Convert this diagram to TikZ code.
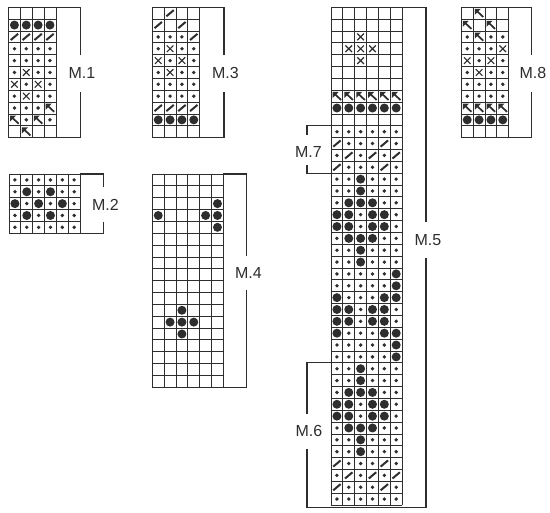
\documentclass[tikz,border=0pt]{standalone}
\usepackage{fontspec}
\setmainfont{Liberation Sans}
\definecolor{ink}{HTML}{2E2E2E}
\def\cs{11.85}
\tikzset{
  gridl/.style={draw=ink,line width=0.6pt},
  brk/.style={draw=ink,line width=0.85pt},
  lbl/.style={inner sep=0pt,font=\fontsize{12}{13}\selectfont,text=ink},
}
\newcommand\knite[2]{}
\newcommand\knitd[2]{\fill[ink] (#1,#2) circle (1.9);}
\newcommand\knitB[2]{\fill[ink] (#1,#2) circle (4.5);}
\newcommand\knits[2]{\draw[ink,line width=1.5pt,shift={(#1,#2)}] (-3.7,3.1) -- (3.7,-3.1);}
\newcommand\knitx[2]{\draw[ink,line width=0.85pt,shift={(#1,#2)}] (-3.3,-3.3) -- (3.3,3.3) (-3.3,3.3) -- (3.3,-3.3);}
\newcommand\knita[2]{\fill[ink,shift={(#1,#2)}] (-4.3,-4.3) -- (1.7,-4.3) -- (-4.3,1.7) -- cycle;
  \draw[ink,line width=1.3pt,shift={(#1,#2)}] (-2.2,-2.2) -- (4.2,3.8);}
% #1 x0, #2 y0, #3 ncols, #4 nrows, #5 rows
\newcommand\chart[5]{%
  \foreach \k in {0,...,#3} {\draw[gridl] ({#1+\k*\cs},#2) -- ({#1+\k*\cs},{#2+#4*\cs});}
  \foreach \k in {0,...,#4} {\draw[gridl] (#1,{#2+\k*\cs}) -- ({#1+#3*\cs},{#2+\k*\cs});}
  \foreach \row [count=\i] in {#5} {
    \foreach \c [count=\j] in \row {
      \pgfmathsetmacro\cx{#1+(\j-0.5)*\cs}
      \pgfmathsetmacro\cy{#2+(\i-0.5)*\cs}
      \csname knit\c\endcsname{\cx}{\cy}
    }
  }
}
% right bracket: #1 grid right, #2 line x, #3 top, #4 bottom, #5 gap top, #6 gap bottom
\newcommand\chartbrack[6]{%
  \draw[brk] (#1,#3) -- (#2,#3) -- (#2,#5);
  \draw[brk] (#2,#6) -- (#2,#4) -- (#1,#4);
}
\begin{document}
\begin{tikzpicture}[x=0.75pt,y=-0.75pt]
\useasboundingbox[fill=white] (0,0) rectangle (550,513);

% M.1
\chart{8.5}{7.3}{4}{11}{{e,e,e,e},{B,B,B,B},{s,s,s,s},{d,d,d,d},{d,d,d,d},{d,x,d,d},{x,d,x,d},{d,x,d,d},{d,d,d,a},{a,d,a,d},{e,a,e,e}}
\chartbrack{55.9}{80.5}{7.3}{137.65}{55}{92}
\node[lbl] (m1) at (82,73) {M.1};

% M.3
\chart{152.3}{7.3}{4}{11}{{e,s,e,e},{s,e,s,e},{d,d,d,s},{d,x,d,d},{x,d,x,d},{d,x,d,d},{d,d,d,d},{d,d,d,d},{s,s,s,s},{B,B,B,B},{e,e,e,e}}
\chartbrack{199.7}{224}{7.3}{137.65}{55}{92}
\node[lbl] (m3) at (225.5,73) {M.3};

% M.8
\chart{461.3}{7.3}{4}{11}{{e,a,e,e},{a,e,a,e},{d,a,d,d},{d,d,d,x},{x,d,x,d},{d,x,d,d},{d,d,d,d},{d,d,d,d},{a,a,a,a},{B,B,B,B},{e,e,e,e}}
\chartbrack{508.7}{531.7}{7.3}{137.65}{55}{92}
\node[lbl] (m8) at (533,73) {M.8};

% M.2
\chart{9}{174}{6}{5}{{d,d,d,d,d,d},{d,B,d,B,d,d},{B,d,B,d,B,d},{d,B,d,B,d,d},{d,d,d,d,d,d}}
\chartbrack{80.1}{103.3}{174}{233.25}{187}{222}
\node[lbl] (m2) at (105.5,204.5) {M.2};

% M.4
\chart{152.3}{174}{6}{18}{{e,e,e,e,e,e},{e,e,e,e,e,e},{e,e,e,e,e,B},{B,e,e,e,B,B},{e,e,e,e,e,B},{e,e,e,e,e,e},{e,e,e,e,e,e},{e,e,e,e,e,e},{e,e,e,e,e,e},{e,e,e,e,e,e},{e,e,e,e,e,e},{e,e,B,e,e,e},{e,B,B,B,e,e},{e,e,B,e,e,e},{e,e,e,e,e,e},{e,e,e,e,e,e},{e,e,e,e,e,e},{e,e,e,e,e,e}}
\chartbrack{223.4}{246.7}{174}{387.3}{256}{290}
\node[lbl] (m4) at (248.5,273) {M.4};

% M.5
\chart{331}{7.3}{6}{42}{{e,e,e,e,e,e},{e,e,e,e,e,e},{e,e,x,e,e,e},{e,x,x,x,e,e},{e,e,x,e,e,e},{e,e,e,e,e,e},{e,e,e,e,e,e},{a,a,a,a,a,a},{B,B,B,B,B,B},{e,e,e,e,e,e},{d,d,d,d,d,d},{s,d,d,d,s,d},{d,s,d,s,d,s},{s,d,d,d,s,d},{d,d,B,d,d,d},{d,d,B,d,d,d},{d,B,B,B,d,d},{B,B,d,B,B,d},{B,B,d,B,B,d},{d,B,B,B,d,d},{d,d,B,d,d,d},{d,d,B,d,d,d},{d,d,d,d,d,B},{d,d,d,d,d,B},{B,d,d,d,B,B},{B,B,d,B,B,d},{B,B,d,B,B,d},{B,d,d,d,B,B},{d,d,d,d,d,B},{d,d,d,d,d,B},{d,d,B,d,d,d},{d,d,B,d,d,d},{d,B,B,B,d,d},{B,B,d,B,B,d},{B,B,d,B,B,d},{d,B,B,B,d,d},{d,d,B,d,d,d},{d,d,B,d,d,d},{s,d,d,d,s,d},{d,s,d,s,d,s},{s,d,d,d,s,d},{d,d,d,d,d,d}}
\draw[brk] (402.1,7.3) -- (426,7.3) -- (426,222);
\draw[brk] (426,258) -- (426,507.5) -- (307,507.5) -- (307,449);
\node[lbl] (m5) at (428,240.5) {M.5};

% M.7
\draw[brk] (331,125.8) -- (307,125.8) -- (307,135);
\draw[brk] (307,165) -- (307,173.2) -- (331,173.2);
\node[lbl] (m7) at (308.5,151.5) {M.7};

% M.6
\draw[brk] (331,362.8) -- (307,362.8) -- (307,414);
\node[lbl] (m6) at (309,431) {M.6};
\end{tikzpicture}
\end{document}
